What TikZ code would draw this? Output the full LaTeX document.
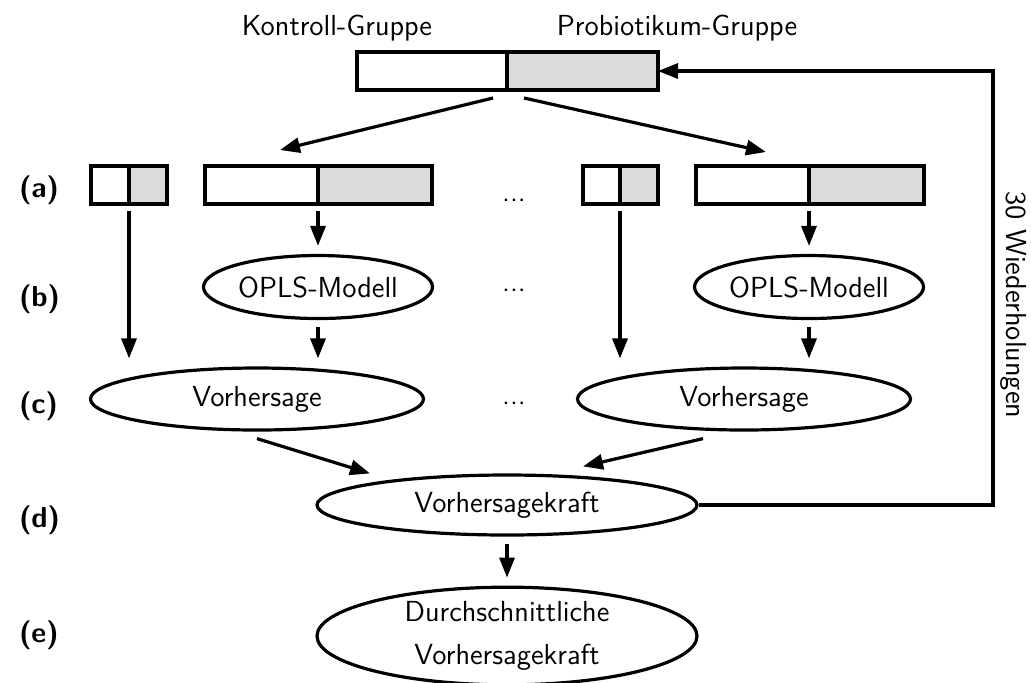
\documentclass[tikz,border=0pt]{standalone}
\usetikzlibrary{arrows.meta,shapes.geometric}
\definecolor{probgray}{gray}{0.86}
\newcommand\figfont{\sffamily\fontsize{14.5}{17.5}\selectfont}
\tikzset{
  >={Triangle[length=10pt,width=7.5pt]},
  ctl/.style={draw,line width=1.6pt,minimum height=19pt,inner sep=0pt,outer sep=0pt,fill=white},
  pro/.style={ctl,fill=probgray},
  oval/.style={draw,ellipse,line width=1.6pt,inner sep=0pt,align=center},
  arr/.style={->,line width=1.6pt},
  gap/.style={shorten >=4pt,shorten <=3.5pt},
  lbl/.style={anchor=west,font=\figfont\bfseries}
}
\begin{document}
\begin{tikzpicture}[x=0.5pt,y=-0.5pt, every node/.style={font=\figfont}]
  \useasboundingbox (0,0) rectangle (1031,682);

  %--- group headings and top bar ---------------------------------------------
  \node[anchor=base] (kg) at (337,35) {Kontroll-Gruppe};
  \node[anchor=base] (pg) at (677,35) {Probiotikum-Gruppe};
  \node[ctl,minimum width=75pt,anchor=east] (topK) at (507,71) {};
  \node[pro,minimum width=75.5pt,anchor=west] (topP) at (topK.east) {};

  %--- (a) splits -------------------------------------------------------------
  \node[ctl,minimum width=19pt,anchor=east] (a1K) at (129,185) {};
  \node[pro,minimum width=19pt,anchor=west] (a1P) at (a1K.east) {};
  \node[ctl,minimum width=56.5pt,anchor=east] (a2K) at (318,185) {};
  \node[pro,minimum width=57pt,anchor=west] (a2P) at (a2K.east) {};
  \node[ctl,minimum width=18.5pt,anchor=east] (a3K) at (620,185) {};
  \node[pro,minimum width=19pt,anchor=west] (a3P) at (a3K.east) {};
  \node[ctl,minimum width=56.5pt,anchor=east] (a4K) at (809,185) {};
  \node[pro,minimum width=57.5pt,anchor=west] (a4P) at (a4K.east) {};

  %--- (b) - (e) ovals --------------------------------------------------------
  \node[oval,minimum width=114.5pt,minimum height=31.5pt] (oL) at (318,287) {OPLS-Modell};
  \node[oval,minimum width=114.5pt,minimum height=31.5pt] (oR) at (809,287) {OPLS-Modell};
  \node[oval,minimum width=166.5pt,minimum height=31pt] (vL) at (257,399) {Vorhersage};
  \node[oval,minimum width=166.5pt,minimum height=31pt] (vR) at (744,399) {Vorhersage};
  \node[oval,minimum width=190pt,minimum height=30pt] (kraft) at (507,505) {Vorhersagekraft};
  \node[oval,minimum width=190pt,minimum height=46pt] (avg) at (507,636)
       {Durchschnittliche\\[4pt]Vorhersagekraft};

  %--- row labels and dots ----------------------------------------------------
  \node[lbl] (la) at (12,190) {(a)};
  \node[lbl] (lb) at (12,299) {(b)};
  \node[lbl] (lc) at (12,406) {(c)};
  \node[lbl] (ld) at (12,520) {(d)};
  \node[lbl] (le) at (12,635) {(e)};
  \node[anchor=base] (da) at (514,201) {...};
  \node[anchor=base] (db) at (514,291) {...};
  \node[anchor=base] (dc) at (514,404) {...};

  %--- arrows -----------------------------------------------------------------
  \draw[arr] ([shift={(-14,8)}]topK.south east) -- ([shift={(-38,-16)}]a2K.north east);
  \draw[arr] ([shift={(17,8)}]topK.south east) -- ([shift={(-43,-14)}]a4K.north east);

  \draw[arr,gap] (a1K.south east) -- (a1K.south east |- vL.north);
  \draw[arr,gap] (a2K.south east) -- (oL.north);
  \draw[arr,gap] (oL.south) -- (oL.south |- vL.north);
  \draw[arr,gap] (a3K.south east) -- (a3K.south east |- vR.north);
  \draw[arr,gap] (a4K.south east) -- (oR.north);
  \draw[arr,gap] (oR.south) -- (oR.south |- vR.north);

  \draw[arr] ([shift={(0,7)}]vL.south) -- ([shift={(-137,0)}]kraft.north);
  \draw[arr] ([shift={(-41,7)}]vR.south) -- ([shift={(76,-7)}]kraft.north);
  \draw[arr,gap] (kraft.south) -- (avg.north);

  %--- repeat loop ------------------------------------------------------------
  \coordinate (fb) at (993,290);
  \draw[arr] (kraft.east) -| (fb) |- (topP.east);
  \node[rotate=-90] (wdh) at (1014,305) {30 Wiederholungen};
\end{tikzpicture}
\end{document}
